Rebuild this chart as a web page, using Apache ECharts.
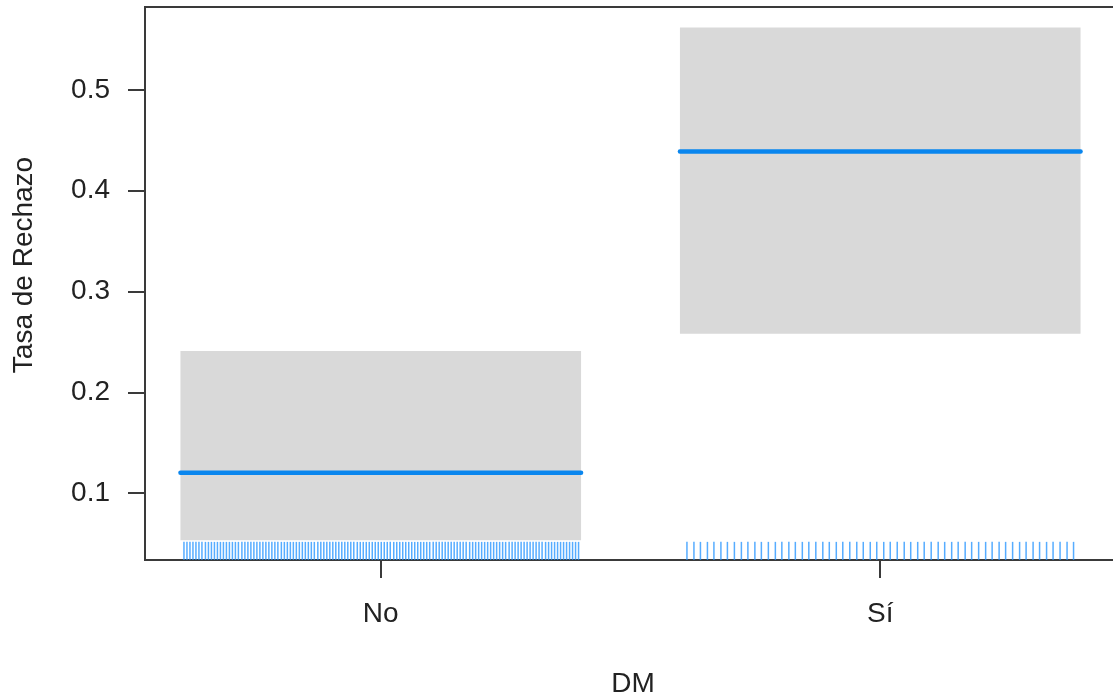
<!DOCTYPE html>
<html>
<head>
<meta charset="utf-8">
<script src="https://cdn.jsdelivr.net/npm/echarts@6/dist/echarts.min.js"></script>
<style>
html,body{margin:0;padding:0;background:#fff;}
#chart{width:1113px;height:700px;}
</style>
</head>
<body>
<div id="chart"></div>
<script>
// ---- data ----
var categories = ['No', 'Sí'];
var catPos = [1, 2];
var fitValues = [0.120, 0.439];
var lowerValues = [0.053, 0.258];
var upperValues = [0.241, 0.562];
var yTicks = [0.1, 0.2, 0.3, 0.4, 0.5];
var rugNo = [0.606,0.612,0.618,0.624,0.630,0.636,0.642,0.649,0.655,0.661,0.667,0.673,0.679,0.685,0.691,0.697,0.703,0.709,0.715,0.722,
0.728,0.734,0.740,0.746,0.752,0.758,0.764,0.770,0.776,0.782,0.788,0.794,0.801,0.807,0.813,0.819,0.825,0.831,0.837,0.843,
0.849,0.855,0.861,0.867,0.874,0.880,0.886,0.892,0.898,0.904,0.910,0.916,0.922,0.928,0.934,0.940,0.946,0.953,0.959,0.965,
0.971,0.977,0.983,0.989,0.995,1.001,1.007,1.013,1.019,1.026,1.032,1.038,1.044,1.050,1.056,1.062,1.068,1.074,1.080,1.086,
1.092,1.098,1.105,1.111,1.117,1.123,1.129,1.135,1.141,1.147,1.153,1.159,1.165,1.171,1.178,1.184,1.190,1.196,1.202,1.208,
1.214,1.220,1.226,1.232,1.238,1.244,1.250,1.257,1.263,1.269,1.275,1.281,1.287,1.293,1.299,1.305,1.311,1.317,1.323,1.330,
1.336,1.342,1.348,1.354,1.360,1.366,1.372,1.378,1.384,1.390,1.396];
var rugSi = [1.613,1.627,1.640,1.654,1.667,1.681,1.694,1.708,1.722,1.735,1.749,1.762,1.776,1.790,1.803,1.817,1.830,1.844,1.857,1.871,
1.885,1.898,1.912,1.925,1.939,1.953,1.966,1.980,1.993,2.007,2.020,2.034,2.048,2.061,2.075,2.088,2.102,2.116,2.129,2.143,
2.156,2.170,2.183,2.197,2.211,2.224,2.238,2.251,2.265,2.279,2.292,2.306,2.319,2.333,2.346,2.360,2.374,2.387];
var rugTop = 0.0515;
var bandHalf = 0.401;
var xMin = 0.528, xMax = 2.482;
var yMin = 0.0335, yMax = 0.5824;

var FONT = 'Liberation Sans';
var FS = 28;
var axisColor = '#3a3a3a';

var bandData = catPos.map(function (p, i) { return [p, lowerValues[i], upperValues[i]]; });
var fitData = catPos.map(function (p, i) { return [p, fitValues[i]]; });
var rugData = rugNo.map(function (v) { return [v]; }).concat(rugSi.map(function (v) { return [v]; }));

var chart = echarts.init(document.getElementById('chart'), null, {renderer: 'canvas'});
chart.setOption({
  animation: false,
  backgroundColor: '#fff',
  grid: {left: 145, top: 7, width: 976, height: 553, outerBoundsMode: 'none', containLabel: false,
    show: true, borderColor: axisColor, borderWidth: 2, backgroundColor: 'transparent'},
  xAxis: {
    type: 'value', min: xMin, max: xMax,
    name: 'DM', nameLocation: 'middle', nameGap: 110,
    nameTextStyle: {fontFamily: FONT, fontSize: FS, color: '#222'},
    axisLine: {show: true, lineStyle: {color: axisColor, width: 2}},
    axisTick: {show: true, length: 18, lineStyle: {color: axisColor, width: 2}, customValues: catPos},
    axisLabel: {show: true, margin: 40, fontFamily: FONT, fontSize: FS, color: '#222', customValues: catPos,
      formatter: function (v) { var i = catPos.indexOf(v); return i >= 0 ? categories[i] : ''; }},
    splitLine: {show: false}
  },
  yAxis: {
    type: 'value', min: yMin, max: yMax,
    axisLine: {show: true, lineStyle: {color: axisColor, width: 2}},
    axisTick: {show: true, length: 17, lineStyle: {color: axisColor, width: 2}, customValues: yTicks},
    axisLabel: {show: true, margin: 35, fontFamily: FONT, fontSize: FS, color: '#222', customValues: yTicks,
      formatter: function (v) { return v.toFixed(1); }},
    splitLine: {show: false}
  },
  graphic: [{
    type: 'text', x: 24, y: 265, rotation: Math.PI / 2,
    style: {text: 'Tasa de Rechazo', font: FS + 'px "' + FONT + '"', fill: '#222', align: 'center', verticalAlign: 'middle'}
  }],
  series: [
    {
      type: 'custom', name: 'band', data: bandData, z: 1,
      renderItem: function (params, api) {
        var x = api.value(0);
        var p1 = api.coord([x - bandHalf, api.value(2)]);
        var p2 = api.coord([x + bandHalf, api.value(1)]);
        return {type: 'rect', shape: {x: p1[0], y: p1[1], width: p2[0] - p1[0], height: p2[1] - p1[1]},
          style: {fill: '#d9d9d9'}};
      }
    },
    {
      type: 'custom', name: 'rug', data: rugData, z: 2,
      renderItem: function (params, api) {
        var x = api.value(0);
        var a = api.coord([x, rugTop]);
        var b = api.coord([x, yMin]);
        return {type: 'line', shape: {x1: a[0], y1: a[1], x2: b[0], y2: b[1]},
          style: {stroke: 'rgba(30,144,255,0.75)', lineWidth: 1.5}};
      }
    },
    {
      type: 'custom', name: 'fit', data: fitData, z: 3,
      renderItem: function (params, api) {
        var x = api.value(0);
        var a = api.coord([x - bandHalf, api.value(1)]);
        var b = api.coord([x + bandHalf, api.value(1)]);
        return {type: 'line', shape: {x1: a[0], y1: a[1], x2: b[0], y2: b[1]},
          style: {stroke: '#0a86ee', lineWidth: 4.5, lineCap: 'round'}};
      }
    }
  ]
});
</script>
</body>
</html>
